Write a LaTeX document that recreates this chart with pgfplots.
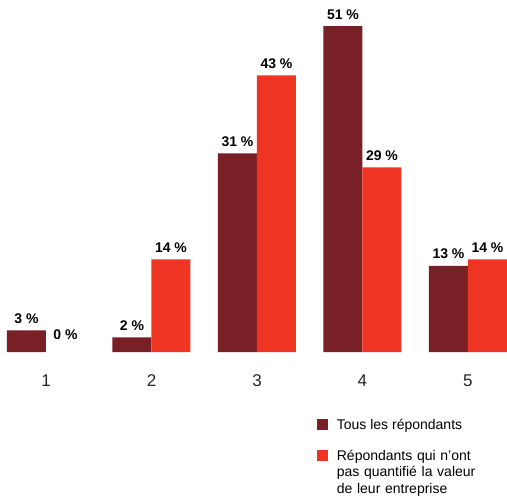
\documentclass[border=0pt]{standalone}
\usepackage{fontspec}
\setmainfont{Liberation Sans}
\usepackage{pgfplots}
\pgfplotsset{compat=1.18}
\definecolor{darkred}{HTML}{782025}
\definecolor{brightred}{HTML}{EE3524}
\begin{document}
\begin{tikzpicture}
\begin{axis}[
  scale only axis, width=507pt, height=352pt,
  xmin=0.564, xmax=5.37, ymin=0, ymax=55.09,
  axis line style={draw=none},
  major tick length=0pt,
  ytick=\empty,
  xtick={1,2,3,4,5},
  xticklabels={1,2,3,4,5},
  ybar, bar width=39pt,
  nodes near coords, point meta=explicit symbolic,
  every node near coord/.append style={font=\fontsize{14}{16}\selectfont\bfseries, anchor=base, yshift=7pt, inner sep=0pt, text=black},
  xticklabel style={font=\fontsize{17}{20}\selectfont, anchor=base, yshift=-34pt, text=black!85},
  legend style={at={(axis description cs:0.625,-0.19)}, anchor=north west, draw=none, fill=none,
    inner sep=0pt, outer sep=0pt, row sep=19pt, column sep=9pt,
    nodes={inner sep=0pt, outer sep=0pt, anchor=base west}, font=\fontsize{14}{16.5}\selectfont},
  legend cell align=left,
  legend image code/.code={\fill[#1,draw=none] (0pt,-1pt) rectangle (11pt,10pt);},
]
\addplot[fill=darkred, draw=none, bar shift=-19.5pt] coordinates {(1,3.4)[3 \%] (2,2.3)[2 \%] (3,31.1)[31 \%] (4,51)[51 \%] (5,13.5)[13 \%]};
\addlegendentry{Tous les répondants}
\addplot[fill=brightred, draw=none, bar shift=19.5pt] coordinates {(2,14.5)[14 \%] (3,43.3)[43 \%] (4,28.9)[29 \%] (5,14.5)[14 \%]};
\addlegendentry[text width=168pt, align=left, text depth=41pt]{Répondants qui n’ont\newline pas quantifié la valeur\newline de leur entreprise}
\addplot[fill=none, draw=none, bar shift=19.5pt, forget plot] coordinates {(1,0)[\raisebox{6pt}{0 \%}]};
\end{axis}
\end{tikzpicture}
\end{document}
